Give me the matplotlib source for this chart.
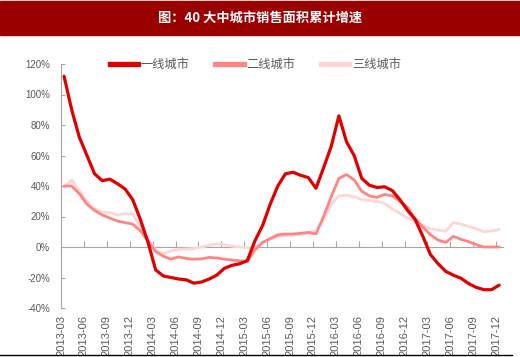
import matplotlib
matplotlib.use('Agg')
import matplotlib.pyplot as plt
from matplotlib.patches import Rectangle
from matplotlib.lines import Line2D

plt.rcParams['font.family'] = ['Noto Sans CJK SC', 'DejaVu Sans']

# months 2013-03 .. 2017-12 (cumulative YoY growth, %)
months = ['%d-%02d' % (2013 + (m + 2) // 12, (m + 2) % 12 + 1) for m in range(58)]

tier1 = [112, 90, 72, 60, 48, 43.5, 44.5, 41.5, 38, 31,
         18, 3, -15, -19, -20, -21, -21.5, -23.7, -23, -21,
         -18.5, -14, -12, -11, -9, 4, 14, 28, 40, 48,
         49, 47, 45.5, 38.5, 52, 66, 86, 69, 60, 45,
         40.5, 39, 39.5, 37, 31, 24, 18, 7, -5, -11,
         -16, -18.5, -20.5, -24, -26.5, -28, -28, -25]
tier2 = [40, 40, 35, 28, 24, 21, 19, 17, 16, 15,
         10.6, 4, -3, -6, -8, -6.5, -7.5, -8, -7.8, -6.8,
         -7.2, -8, -8.6, -9, -9.5, -2, 3, 5.5, 8, 8.5,
         8.5, 9, 9.5, 8.5, 20, 33, 45, 47.5, 44, 36.5,
         33.5, 32.5, 34.5, 33.5, 30, 26, 18.5, 13, 8, 4.5,
         3, 7, 5, 3.5, 1.5, 0, 0, 0]
tier3 = [39, 44, 37, 30, 25, 23, 22.5, 21, 22, 21.5,
         13.5, 5, -2, -4.5, -2.5, -1.5, -1.3, -1, 0, 1,
         2, 1.5, 0.5, 0, -0.5, -0.5, 3, 5, 7, 7.5,
         7.8, 8.5, 9.5, 10.5, 18, 28, 33.5, 34, 33, 31,
         30.5, 30, 28.5, 25, 22, 19, 16.5, 14, 12, 11,
         10.5, 16, 15, 13.5, 12, 10, 10.5, 11.5]

names = ['一线城市', '二线城市', '三线城市']
colors = ['#E00000', '#FF8585', '#FFD6D6']
widths = [2.3, 2.0, 2.0]

gray = '#595959'
axis_gray = '#A6A6A6'
fig = plt.figure(figsize=(5.2, 3.57), dpi=100)
ax = fig.add_axes([61 / 520, 1 - 308 / 357, 442 / 520, 244 / 357])

x = list(range(len(months)))
for ys, c, w in list(zip([tier3, tier2, tier1], colors[::-1], widths[::-1])):
    ax.plot(x, ys, color=c, lw=w, solid_capstyle='round', solid_joinstyle='round')

ax.set_xlim(-0.4, 57.5)
ax.set_ylim(-40, 120)
ax.set_yticks(range(-40, 121, 20))
ax.set_yticklabels(['%d%%' % v for v in range(-40, 121, 20)], fontsize=7, color=gray,
                   family='Liberation Sans')

# labels along the bottom, tick marks on the 0% line
ticks = [m - 0.4 for m in range(0, 58, 3)]
ax.set_xticks(ticks)
ax.set_xticklabels(months[::3], fontsize=8, color=gray, family='Liberation Sans',
                   rotation=90)
ax.tick_params(axis='x', length=0, pad=5)
ax.tick_params(axis='y', direction='in', length=3, color=axis_gray, pad=8)

zero = ax.secondary_xaxis(0.25)
zero.set_xticks(ticks)
zero.set_xticklabels([])
zero.tick_params(direction='in', length=4, color=axis_gray)
zero.spines['bottom'].set_color(axis_gray)

for s in ['top', 'right', 'bottom']:
    ax.spines[s].set_visible(False)
ax.spines['left'].set_color(axis_gray)

handles = [Line2D([0], [0], color=c, lw=3.8) for c in colors]
ax.legend(handles, names, loc='upper center', bbox_to_anchor=(0.44, 1.07), ncol=3,
          frameon=False, fontsize=8.8, labelcolor=gray, handlelength=2.3,
          handletextpad=0.25, columnspacing=2.1)

# title banner
fig.patches.append(Rectangle((0, 1 - 35 / 357), 1, 34 / 357, transform=fig.transFigure,
                             color='#9B0000', zorder=0))
fig.text(0.5, 1 - 18 / 357, '图：40 大中城市销售面积累计增速', color='white',
         fontsize=9.5, fontweight='bold', ha='center', va='center')
fig.add_artist(Line2D([0, 512 / 520], [1 - 355 / 357, 1 - 355 / 357],
                      transform=fig.transFigure, color='black', lw=1))

fig.savefig('out.png', dpi=100)
